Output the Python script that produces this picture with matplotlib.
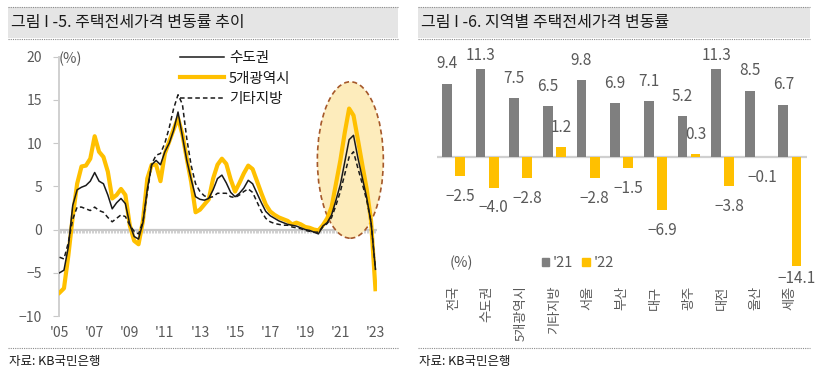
import numpy as np
import matplotlib
matplotlib.use("Agg")
import matplotlib.pyplot as plt
from matplotlib.patches import Ellipse, Rectangle
from matplotlib.lines import Line2D

plt.rcParams['font.family'] = ['Noto Sans CJK KR', 'DejaVu Sans']

# ---- left panel: YoY jeonse price change (%), quarterly 2005Q1 .. 2023Q1
t = 2005 + np.arange(73) * 0.25
capital = [-5.0, -4.7, -2.0, 2.8,   4.6, 4.9, 5.1, 5.6,   6.6, 5.6, 5.3, 4.0,
           2.4, 3.1, 3.6, 3.0,      0.6, -0.8, -1.1, 0.8, 4.7, 7.5, 8.0, 7.5,
           9.0, 10.0, 11.5, 13.6,   10.8, 8.0, 5.8, 3.8,  3.5, 3.4, 3.6, 4.6,
           5.9, 6.3, 5.4, 4.3,      3.8, 4.2, 4.8, 5.7,   5.3, 4.2, 3.1, 2.1,
           1.6, 1.3, 1.0, 0.8,      0.6, 0.5, 0.4, 0.2,   0.0, -0.1, -0.3, -0.5,
           0.4, 0.8, 1.7, 3.4,      5.2, 7.8, 10.4, 10.9, 8.3, 6.0, 3.7, 0.8,
           -4.6]
metro5 = [-7.3, -6.8, -3.0, 1.5,   5.3, 7.3, 7.4, 8.2,   10.8, 9.0, 8.4, 6.7,
          3.6, 4.0, 4.7, 4.0,      0.5, -1.3, -1.7, 1.0, 5.9, 7.5, 7.5, 5.6,
          8.8, 10.2, 11.6, 12.9,   11.0, 8.2, 5.5, 2.0,  2.3, 2.9, 3.5, 5.9,
          7.5, 8.2, 7.6, 5.8,      4.4, 5.4, 6.5, 7.4,   7.0, 5.6, 4.2, 2.9,
          2.1, 1.7, 1.4, 1.2,      1.0, 0.6, 0.8, 0.6,   0.3, 0.2, 0.0, -0.1,
          0.5, 1.3, 2.6, 5.3,      8.0, 11.2, 14.0, 13.2, 10.4, 7.5, 4.7, 1.0,
          -6.9]
other = [-3.2, -3.4, -1.5, 1.2,   2.6, 2.6, 2.4, 2.2,   2.6, 2.2, 2.0, 1.4,
         0.9, 1.3, 1.7, 1.5,      0.5, -0.2, -0.5, 0.9, 4.3, 7.6, 8.6, 8.8,
         10.0, 11.8, 14.0, 15.6,  14.5, 10.5, 7.4, 5.3, 4.4, 3.9, 3.7, 3.8,
         4.2, 4.2, 4.2, 3.8,      3.7, 4.0, 4.4, 4.7,   4.3, 3.2, 2.1, 1.3,
         0.9, 0.7, 0.6, 0.5,      0.5, 0.3, 0.2, 0.1,   -0.1, -0.2, -0.3, -0.3,
         0.3, 0.7, 1.4, 2.8,      4.4, 6.4, 8.4, 9.0,   7.1, 5.3, 3.4, 0.9,
         -4.6]
year_ticks = list(range(2005, 2024, 2))
year_labels = ["'%02d" % (y % 100) for y in year_ticks]

# ---- right panel: change by region (%)
regions = ['전국', '수도권', '5개광역시', '기타지방', '서울', '부산',
           '대구', '광주', '대전', '울산', '세종']
y21 = [9.4, 11.3, 7.5, 6.5, 9.8, 6.9, 7.1, 5.2, 11.3, 8.5, 6.7]
y22 = [-2.5, -4.0, -2.8, 1.2, -2.8, -1.5, -6.9, 0.3, -3.8, -0.1, -14.1]

ORANGE = '#FFC000'
GRAY_BAR = '#7f7f7f'
TXT = '#595959'
W, H = 820, 382

fig = plt.figure(figsize=(W / 100, H / 100), dpi=100)


def fx(px):
    return px / W


def fy(py):
    return 1 - py / H


# title bars, dotted separators and source lines
for x0, x1, title in [(8, 398, '그림 I -5. 주택전세가격 변동률 추이'),
                      (418, 810, '그림 I -6. 지역별 주택전세가격 변동률')]:
    fig.add_artist(Rectangle((fx(x0), fy(38)), fx(x1 - x0), 31 / H,
                             transform=fig.transFigure, color='#e5e5e5', lw=0))
    for yy in (6.5, 39, 347.5):
        fig.add_artist(Line2D([fx(x0), fx(x1)], [fy(yy), fy(yy)],
                              transform=fig.transFigure, color='#8c8c8c',
                              lw=0.8, ls=(0, (1, 1))))
    fig.text(fx(x0 + 3), fy(23), title, fontsize=11.5, color='#1a1a1a',
             va='center', ha='left')
    fig.text(fx(x0 + 1), fy(362), '자료: KB국민은행', fontsize=9,
             color='#1a1a1a', va='center', ha='left')

# ---------------- left: line chart
ax1 = fig.add_axes([fx(58.7), fy(316), fx(377.2 - 58.7), (316 - 56.7) / H])
ax1.set_xlim(2004.95, 2023.1)
ax1.set_ylim(-10, 20)
for s in ('top', 'right', 'bottom'):
    ax1.spines[s].set_visible(False)
ax1.spines['left'].set_color('#d0d0d0')
ax1.spines['left'].set_linewidth(1.4)
ax1.set_yticks(range(-10, 21, 5))
ax1.tick_params(axis='y', length=4, color='#c8c8c8', labelcolor=TXT,
                labelsize=10, pad=8)
ax1.set_xticks(year_ticks)
ax1.set_xticklabels(year_labels)
ax1.tick_params(axis='x', length=0, labelcolor=TXT, labelsize=10, pad=7)

# zero line with monthly minor ticks
ax1.axhline(0, color='#c8c8c8', lw=1.6, zorder=1)
months = np.arange(2005, 2023.01, 1 / 12)
ax1.vlines(months, -0.45, 0, color='#c8c8c8', lw=0.6, zorder=1)

# highlight of the 2021-22 spike
ax1.add_patch(Ellipse((2021.57, 8.05), 3.76, 18.1, facecolor='#fdecbc',
                      edgecolor='#a5582a', ls=(0, (3, 2)), lw=1.2, zorder=2,
                      clip_on=False))

l2, = ax1.plot(t, metro5, color=ORANGE, lw=3.0, solid_joinstyle='round',
               zorder=3)
l1, = ax1.plot(t, capital, color='#1a1a1a', lw=1.1, zorder=4)
l3, = ax1.plot(t, other, color='#1a1a1a', lw=1.1, ls=(0, (3, 2)), zorder=5)
ax1.legend([l1, l2, l3], ['수도권', '5개광역시', '기타지방'], loc='upper left',
           bbox_to_anchor=(fx(180), fy(51)), bbox_transform=fig.transFigure,
           frameon=False, fontsize=10.5, handlelength=3.0,
           handletextpad=0.35, labelspacing=0.45, borderpad=0,
           borderaxespad=0, labelcolor='#1a1a1a')
ax1.text(0.0, 0.99, '(%)', transform=ax1.transAxes, fontsize=10.5,
         color=TXT, ha='left', va='center')

# ---------------- right: bar chart
ax2 = fig.add_axes([fx(436.7), fy(280), fx(370), 235 / H])
x = np.arange(len(regions))
ax2.set_xlim(-0.5, len(regions) - 0.5)
ax2.set_ylim(-15.85, 14.36)
ax2.axhline(0, color='#d0d0d0', lw=1.6, zorder=1)
b1 = ax2.bar(x - 0.195, y21, 0.29, color=GRAY_BAR, zorder=2)
b2 = ax2.bar(x + 0.195, y22, 0.29, color=ORANGE, zorder=2)
for s in ax2.spines.values():
    s.set_visible(False)
ax2.set_yticks([])
ax2.set_xticks(x)
ax2.set_xticklabels(regions, rotation=90, va='top', ha='center')
ax2.tick_params(axis='x', length=0, labelcolor=TXT, labelsize=9.5, pad=4)


def fmt(v):
    return ('%.1f' % v).replace('-', '\u2212')


for xs, vals in ((x - 0.195, y21), (x + 0.195, y22)):
    for xi, v in zip(xs, vals):
        yl = v + 2.57 if v >= 0 else v - 2.57
        yl = min(max(yl, -15.7), 13.07)
        ax2.text(xi, yl, fmt(v), ha='center', va='center', fontsize=11,
                 color=TXT)

fig.text(fx(450), fy(263.3), '(%)', fontsize=10.5, color=TXT,
         ha='left', va='center')
ax2.legend([Rectangle((0, 0), 1, 1, color=GRAY_BAR),
            Rectangle((0, 0), 1, 1, color=ORANGE)], ["'21", "'22"],
           ncol=2, frameon=False, loc='center left',
           bbox_to_anchor=(fx(541.7), fy(263.3)),
           bbox_transform=fig.transFigure, fontsize=10.5,
           handlelength=0.5, handleheight=0.5, handletextpad=0.25,
           columnspacing=0.65, borderpad=0, borderaxespad=0,
           labelcolor=TXT)

fig.savefig('out.png', dpi=100)
